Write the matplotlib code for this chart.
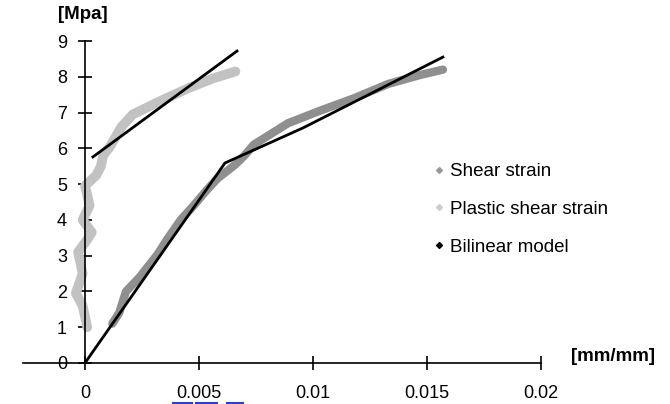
import matplotlib.pyplot as plt

plt.rcParams['font.family'] = ['Liberation Sans', 'DejaVu Sans']

# shear strain test curve [mm/mm] vs stress [MPa]
shear_x = [0.0012, 0.0015, 0.0018, 0.0024, 0.0032, 0.0036, 0.0042, 0.0047, 0.0053,
           0.0058, 0.0062, 0.0066, 0.0070, 0.0074, 0.0089, 0.0103, 0.0118, 0.0133,
           0.0147, 0.0157]
shear_y = [1.10, 1.40, 2.00, 2.40, 3.05, 3.45, 4.00, 4.35, 4.80,
           5.15, 5.35, 5.55, 5.80, 6.10, 6.70, 7.05, 7.40, 7.80,
           8.05, 8.20]

# plastic part of the shear strain
plastic_x = [0.0001, -0.0001, -0.0004, -0.0001, -0.0003, 0.0001, 0.0003, -0.0001,
             0.0002, 0.0001, 0.0000, 0.0005, 0.0007, 0.0008, 0.0011, 0.0016,
             0.0021, 0.0034, 0.0046, 0.0056, 0.0066]
plastic_y = [1.0, 1.6, 1.95, 2.5, 3.1, 3.45, 3.65, 4.0,
             4.4, 4.7, 4.95, 5.25, 5.5, 5.8, 6.05, 6.6,
             6.95, 7.35, 7.7, 7.95, 8.15]

# bilinear fits
bilin_x = [0.0, 0.00614, 0.00956, 0.0157]
bilin_y = [0.0, 5.59, 6.57, 8.55]
bilin_pl_x = [0.00035, 0.00667]
bilin_pl_y = [5.76, 8.72]

xticks = [0, 0.005, 0.01, 0.015, 0.02]
xtick_labels = ['0', '0.005', '0.01', '0.015', '0.02']
yticks = list(range(0, 10))

fig = plt.figure(figsize=(6.7, 4.04), dpi=100)
ax = fig.add_axes([0.0349, 0.1015, 0.7725, 0.797])

ax.plot(shear_x, shear_y, color='#8f8f8f', lw=6.0, solid_joinstyle='round',
        solid_capstyle='round', zorder=2)
ax.plot(plastic_x, plastic_y, color='#c2c2c2', lw=7.0, solid_joinstyle='round',
        solid_capstyle='round', zorder=2)
ax.plot(bilin_x, bilin_y, color='black', lw=2.0, zorder=3)
ax.plot(bilin_pl_x, bilin_pl_y, color='black', lw=2.0, zorder=3)

ax.set_xlim(-0.0027, 0.02)
ax.set_ylim(0, 9)
for s in ['top', 'right']:
    ax.spines[s].set_visible(False)
ax.spines['left'].set_position(('data', 0))
ax.spines['left'].set_bounds(0, 9)
ax.spines['bottom'].set_position(('data', 0))
for s in ['left', 'bottom']:
    ax.spines[s].set_linewidth(1.2)
    ax.spines[s].set_clip_on(False)

ax.set_xticks(xticks)
ax.set_xticklabels(xtick_labels)
ax.set_yticks(yticks)
ax.tick_params(direction='inout', length=10, width=1.2, labelsize=13, pad=8)
ax.tick_params(axis='x', pad=11)

fig.text(0.123, 0.985, '[Mpa]', fontsize=13.5, fontweight='bold', ha='center', va='top')
fig.text(0.978, 0.117, '[mm/mm]', fontsize=13.5, fontweight='bold', ha='right', va='center')

# faint blue underlines under the 0.005 label
for x0, x1 in [(173, 192), (196, 217), (227, 243)]:
    fig.add_artist(plt.Line2D([x0 / 670, x1 / 670], [1.5 / 404, 1.5 / 404],
                              color='#2b3fc8', lw=1.5))

# legend entries drawn as small diamonds
handles = [
    plt.Line2D([], [], ls='none', marker='D', ms=3, color='#999999'),
    plt.Line2D([], [], ls='none', marker='D', ms=3, color='#cccccc'),
    plt.Line2D([], [], ls='none', marker='D', ms=3, color='black'),
]
fig.legend(handles, ['Shear strain', 'Plastic shear strain', 'Bilinear model'],
           loc='upper left', bbox_to_anchor=(0.622, 0.638), frameon=False,
           fontsize=13.5, handlelength=0.6, handletextpad=0.3, labelspacing=1.1)

fig.savefig('out.png', dpi=100)
